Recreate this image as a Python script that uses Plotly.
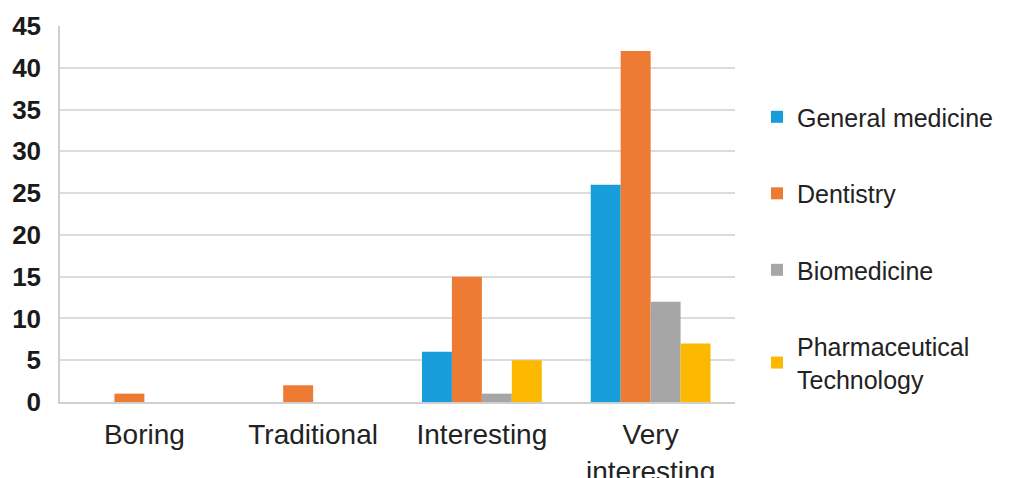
import plotly.graph_objects as go

categories = ["Boring", "Traditional", "Interesting", "Very<br>interesting"]
series_names = ["General medicine", "Dentistry", "Biomedicine", "Pharmaceutical<br>Technology"]
general_medicine = [0, 0, 6, 26]
dentistry = [1, 2, 15, 42]
biomedicine = [0, 0, 1, 12]
pharma_tech = [0, 0, 5, 7]
colors = ["#179dda", "#ed7b33", "#a6a6a6", "#fcb900"]
y_ticks = list(range(0, 50, 5))

fig = go.Figure()
for i, (name, vals) in enumerate(zip(series_names, [general_medicine, dentistry, biomedicine, pharma_tech])):
    fig.add_trace(go.Bar(x=categories, y=vals, name=name, marker_color=colors[i],
                         marker_line_width=0, legendgroup=str(i)))

fig.update_layout(
    width=1013, height=478,
    margin=dict(l=60, r=278, t=26, b=76),
    plot_bgcolor="white", paper_bgcolor="white",
    barmode="group", bargap=0.29, bargroupgap=0,
    font=dict(family="Liberation Sans, Arial", color="#222222"),
    legend=dict(x=1.0326, y=0.819, xanchor="left", yanchor="top",
                font=dict(size=25, color="#222222"), tracegroupgap=41,
                itemwidth=30, borderwidth=0),
    showlegend=True,
)
fig.update_yaxes(range=[0, 45], tickvals=y_ticks, showgrid=True, gridcolor="#dcdcdc", gridwidth=1.5,
                 showline=True, linecolor="#cfcfcf", linewidth=1.5, zeroline=False,
                 ticks="outside", ticklen=12, tickcolor="rgba(0,0,0,0)", automargin=False,
                 tickfont=dict(size=26, family="Liberation Sans, Arial", color="#1a1a1a", weight="bold"))
fig.update_xaxes(showline=True, linecolor="#cfcfcf", linewidth=1.5, automargin=False,
                 ticks="outside", ticklen=7, tickcolor="rgba(0,0,0,0)",
                 tickfont=dict(size=28, color="#222222"))

fig.write_html("out.html")
